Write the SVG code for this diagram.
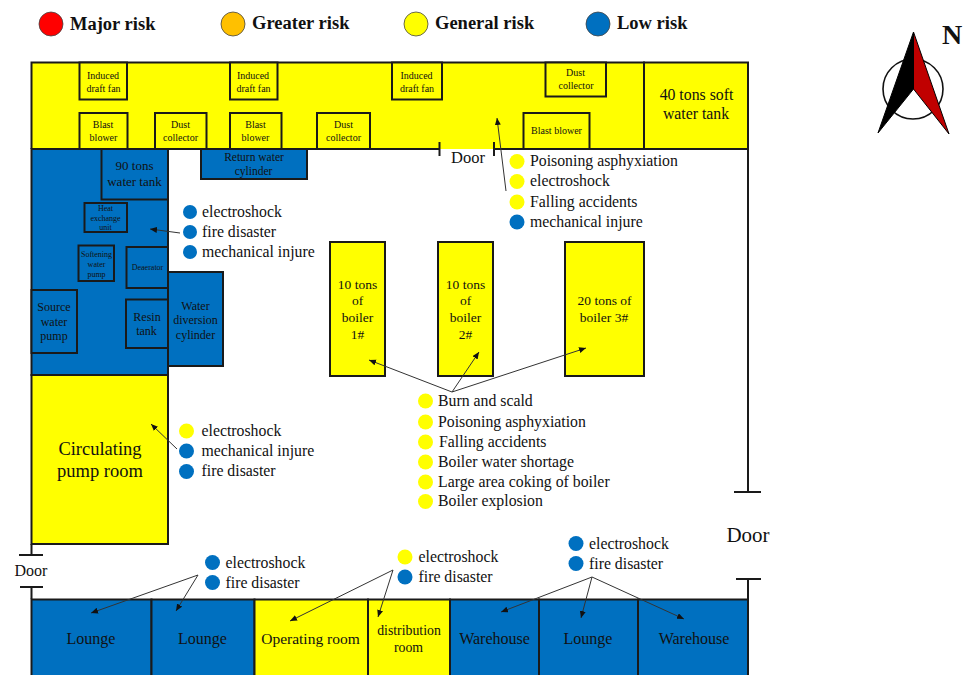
<svg xmlns="http://www.w3.org/2000/svg" width="968" height="675" viewBox="0 0 968 675">
<style>
text{font-family:"Liberation Serif","Times New Roman",serif;fill:#111;text-anchor:middle}
.l{text-anchor:start;font-size:15.8px}
.y{fill:#FFFF00}.b{fill:#0070C0}
.r{stroke:#1a1a1a;stroke-width:2}
.w{fill:none;stroke:#1a1a1a;stroke-width:2}
.a{fill:none;stroke:#333;stroke-width:1;marker-end:url(#ah)}
.lg{font-weight:bold;font-size:18.500px;text-anchor:start}
.s{stroke:#444;stroke-width:.8}
</style>
<defs><marker id="ah" markerUnits="userSpaceOnUse" markerWidth="8" markerHeight="7" refX="7" refY="3" orient="auto"><path d="M0 0L7 3L0 6Z" fill="#111"/></marker></defs>
<g id="legend">
<ellipse class="s" cx="51" cy="24" rx="12" ry="12" fill="#FF0000"/><text class="lg" x="70" y="30">Major risk</text>
<ellipse class="s" cx="233" cy="24" rx="12" ry="12" fill="#FFC000"/><text class="lg" x="252" y="29">Greater risk</text>
<ellipse class="s" cx="416" cy="24" rx="12" ry="12" fill="#FFFF00"/><text class="lg" x="435" y="29">General risk</text>
<ellipse class="s" cx="598" cy="24" rx="12" ry="12" fill="#0070C0"/><text class="lg" x="617" y="29">Low risk</text>
</g>
<g id="north">
<circle cx="913" cy="89" r="30" fill="#fff" stroke="#111" stroke-width="1.6"/>
<path d="M913.500 32L878 133L913.500 89Z" fill="#000" stroke="#000"/>
<path d="M913.500 32L949 134L913.500 89Z" fill="#C00000" stroke="#000"/>
<text x="952" y="44" style="font-size:28px;font-weight:bold" fill="#000">N</text>
</g>
<g id="boiler-house-band"><rect class="y" x="31.500" y="62.500" width="612.500" height="86.500"/><path class="w" d="M31.500 149V62.500H644V149M168 149H440M494 149H748"/></g>
<g id="soft-water-tank"><rect class="y r" x="644" y="62.500" width="104" height="86.500"/><text x="696.500" y="100" font-size="15.800">40 tons soft</text><text x="696" y="119" font-size="15.800">water tank</text></g>
<g id="fan1"><rect class="y r" x="79.500" y="62.500" width="47.500" height="37"/><text x="103" y="79" font-size="10">Induced</text><text x="103.500" y="91.500" font-size="10">draft fan</text></g>
<g id="fan2"><rect class="y r" x="230" y="62.500" width="47.500" height="37"/><text x="253" y="79" font-size="10">Induced</text><text x="253.500" y="91.500" font-size="10">draft fan</text></g>
<g id="fan3"><rect class="y r" x="392" y="62.500" width="50" height="37"/><text x="416.500" y="79" font-size="10">Induced</text><text x="417" y="92" font-size="10">draft fan</text></g>
<g id="dust-top"><rect class="y r" x="545.500" y="62.500" width="60.500" height="34"/><text x="575.500" y="76" font-size="10">Dust</text><text x="576" y="89" font-size="10">collector</text></g>
<g id="blast1"><rect class="y r" x="79.500" y="113" width="48" height="36"/><text x="103" y="128" font-size="10">Blast</text><text x="103.500" y="140.500" font-size="10">blower</text></g>
<g id="dust1"><rect class="y r" x="155" y="113" width="51.500" height="36"/><text x="180.500" y="128" font-size="10">Dust</text><text x="180.500" y="140.500" font-size="10">collector</text></g>
<g id="blast2"><rect class="y r" x="230" y="113" width="51.500" height="36"/><text x="255.500" y="128" font-size="10">Blast</text><text x="255.500" y="140.500" font-size="10">blower</text></g>
<g id="dust2"><rect class="y r" x="317" y="113" width="53" height="36"/><text x="343.500" y="128" font-size="10">Dust</text><text x="343.500" y="140.500" font-size="10">collector</text></g>
<g id="blast3"><rect class="y r" x="523.500" y="113" width="66" height="36"/><text x="556.500" y="134" font-size="10">Blast blower</text></g>
<g id="water-room"><rect class="b r" x="31.500" y="149" width="136.500" height="226"/></g>
<g id="return-cylinder"><rect class="b r" x="201" y="149" width="106" height="30"/><text x="254" y="161" font-size="11.500">Return water</text><text x="253.500" y="175" font-size="11.500">cylinder</text></g>
<g id="tank90"><rect class="b r" x="101.500" y="149" width="66.500" height="50.500"/><text x="134.500" y="170" font-size="13">90 tons</text><text x="134.500" y="186" font-size="13">water tank</text></g>
<g id="heat-unit"><rect class="b r" x="84.500" y="203" width="42.500" height="29"/><text x="105.500" y="211" font-size="8">Heat</text><text x="105.500" y="220.500" font-size="8">exchange</text><text x="105.500" y="230" font-size="8">unit</text></g>
<g id="softening"><rect class="b r" x="78.500" y="245.500" width="35.500" height="35.500"/><text x="96.500" y="257" font-size="8">Softening</text><text x="96.500" y="266.500" font-size="8">water</text><text x="96.500" y="276.500" font-size="8">pump</text></g>
<g id="deaerator"><rect class="b r" x="126.500" y="247" width="41.500" height="41"/><text x="147.500" y="269.500" font-size="8">Deaerator</text></g>
<g id="source-pump"><rect class="b r" x="31.500" y="290" width="45.500" height="63"/><text x="54" y="311" font-size="12">Source</text><text x="54" y="325.500" font-size="12">water</text><text x="54" y="340" font-size="12">pump</text></g>
<g id="resin"><rect class="b r" x="126" y="299.500" width="42" height="48.500"/><text x="147" y="321" font-size="12">Resin</text><text x="146.500" y="335" font-size="12">tank</text></g>
<g id="diversion"><rect class="b r" x="168" y="272" width="55" height="94"/><text x="195.500" y="310" font-size="12">Water</text><text x="195.500" y="324" font-size="12">diversion</text><text x="195.500" y="338.500" font-size="12">cylinder</text></g>
<g id="pump-room"><rect class="y r" x="31.500" y="375" width="136.500" height="169"/><text x="100" y="455" font-size="18.500">Circulating</text><text x="100" y="477" font-size="18.500">pump room</text></g>
<g id="boiler1"><rect class="y r" x="330" y="242" width="55" height="134"/><text x="357.500" y="289" font-size="13.500">10 tons</text><text x="357.500" y="305" font-size="13.500">of</text><text x="357.500" y="322" font-size="13.500">boiler</text><text x="357.500" y="339" font-size="13.500">1#</text></g>
<g id="boiler2"><rect class="y r" x="438" y="242" width="55" height="134"/><text x="465.500" y="289" font-size="13.500">10 tons</text><text x="465.500" y="305" font-size="13.500">of</text><text x="465.500" y="322" font-size="13.500">boiler</text><text x="465.500" y="339" font-size="13.500">2#</text></g>
<g id="boiler3"><rect class="y r" x="565" y="242" width="79" height="134"/><text x="604.500" y="305" font-size="13.500">20 tons of</text><text x="604" y="322" font-size="13.500">boiler 3#</text></g>
<g id="bottom-rooms">
<rect class="b r" x="31.500" y="599.500" width="120" height="77"/><text x="91" y="644" font-size="16">Lounge</text>
<rect class="b r" x="151.500" y="599.500" width="103" height="77"/><text x="202.500" y="644" font-size="16">Lounge</text>
<rect class="y r" x="254.500" y="599.500" width="113.500" height="77"/><text x="310.500" y="644" font-size="15.500">Operating room</text>
<rect class="y r" x="368" y="599.500" width="82" height="77"/><text x="409" y="635" font-size="13.800">distribution</text><text x="408.500" y="652" font-size="13.800">room</text>
<rect class="b r" x="450" y="599.500" width="89" height="77"/><text x="494.500" y="644" font-size="16">Warehouse</text>
<rect class="b r" x="539" y="599.500" width="99" height="77"/><text x="588" y="644" font-size="16">Lounge</text>
<rect class="b r" x="638" y="599.500" width="110" height="77"/><text x="694" y="644" font-size="16">Warehouse</text>
</g>
<g id="walls">
<path class="w" d="M748 149V492M734 492H761M736 579H761M748 579V599M31.500 544V555M19 555H43M20 587H43M31.500 587V599M439.500 142V156M494 142V156"/>
<text x="468" y="163" font-size="16.500">Door</text><text x="748" y="542" font-size="21">Door</text><text x="31" y="576" font-size="16">Door</text>
</g>
<g id="connectors">
<path class="a" d="M180 233L150 229"/>
<path class="a" d="M506 191L497 118"/>
<path class="a" d="M177 449L151 424"/>
<path class="a" d="M452 392L369 360"/><path class="a" d="M452 392L479 352"/><path class="a" d="M452 392L586 348"/>
<path class="a" d="M198 575L91 613"/><path class="a" d="M198 575L176 611"/>
<path class="a" d="M393 570L290 621"/><path class="a" d="M393 570L378 617"/>
<path class="a" d="M592 577L501 612"/><path class="a" d="M592 577L581 618"/><path class="a" d="M592 577L684 619"/>
</g>
<g id="risk-list-water"><circle class="b" cx="190" cy="212" r="7"/><circle class="b" cx="190" cy="232" r="7"/><circle class="b" cx="190" cy="252" r="7"/><text class="l" x="202" y="217">electroshock</text><text class="l" x="202" y="237">fire disaster</text><text class="l" x="202" y="257">mechanical injure</text></g>
<g id="risk-list-band"><circle class="y" cx="517" cy="161.500" r="7.500"/><circle class="y" cx="517" cy="181.500" r="7.500"/><circle class="y" cx="517" cy="202" r="7.500"/><circle class="b" cx="517" cy="222" r="7.500"/><text class="l" x="530" y="166">Poisoning asphyxiation</text><text class="l" x="530" y="186">electroshock</text><text class="l" x="530" y="207">Falling accidents</text><text class="l" x="530" y="227">mechanical injure</text></g>
<g id="risk-list-pump"><circle class="y" cx="186.500" cy="431" r="7.500"/><circle class="b" cx="186.500" cy="451" r="7.500"/><circle class="b" cx="186.500" cy="471.500" r="7.500"/><text class="l" x="201.500" y="436">electroshock</text><text class="l" x="201.500" y="456">mechanical injure</text><text class="l" x="201.500" y="476">fire disaster</text></g>
<g id="risk-list-boilers"><circle class="y" cx="425.500" cy="401" r="7.500"/><circle class="y" cx="425.500" cy="422" r="7.500"/><circle class="y" cx="425.500" cy="442" r="7.500"/><circle class="y" cx="425.500" cy="462" r="7.500"/><circle class="y" cx="425.500" cy="482" r="7.500"/><circle class="y" cx="425.500" cy="501.500" r="7.500"/><text class="l" x="438" y="406">Burn and scald</text><text class="l" x="438" y="427">Poisoning asphyxiation</text><text class="l" x="439" y="447">Falling accidents</text><text class="l" x="438" y="467">Boiler water shortage</text><text class="l" x="438" y="487">Large area coking of boiler</text><text class="l" x="438" y="506">Boiler explosion</text></g>
<g id="risk-list-lounge"><circle class="b" cx="212.500" cy="562.500" r="7.500"/><circle class="b" cx="212.500" cy="582.500" r="7.500"/><text class="l" x="225.500" y="568">electroshock</text><text class="l" x="225.500" y="588">fire disaster</text></g>
<g id="risk-list-operating"><circle class="y" cx="405" cy="557" r="7.500"/><circle class="b" cx="405" cy="577" r="7.500"/><text class="l" x="418.500" y="562">electroshock</text><text class="l" x="418.500" y="582">fire disaster</text></g>
<g id="risk-list-warehouse"><circle class="b" cx="576" cy="543.500" r="7.500"/><circle class="b" cx="576" cy="563.500" r="7.500"/><text class="l" x="589" y="549">electroshock</text><text class="l" x="589" y="569">fire disaster</text></g>
</svg>
